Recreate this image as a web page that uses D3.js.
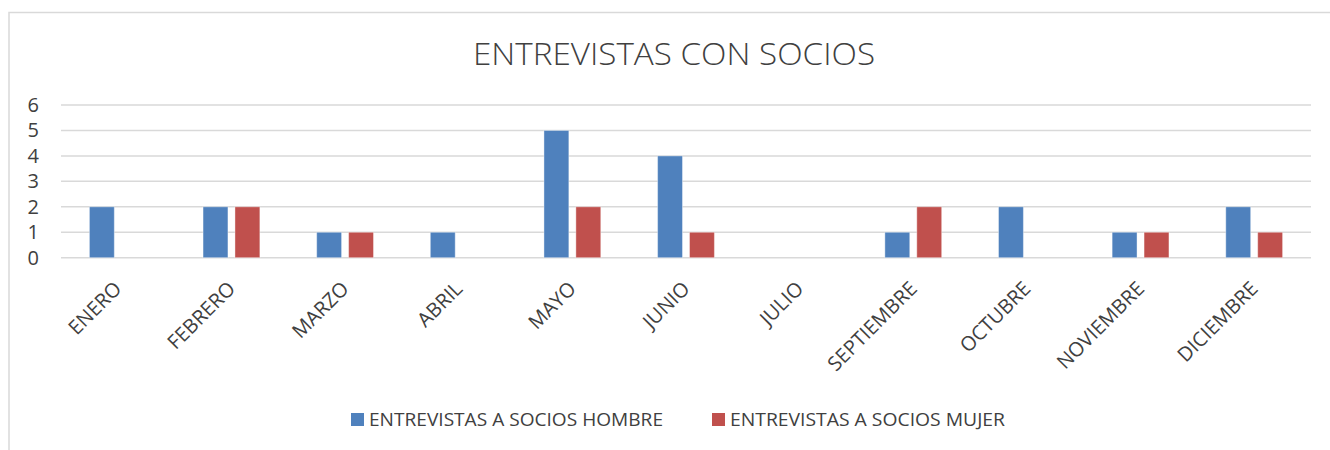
<html>
<head>
  <title></title>
  <script src="https://cdn.jsdelivr.net/npm/d3@7"></script>
<style type="text/css">
body { margin: 0; background: #fff; }
text { fill: #404040; }
</style>
</head>
<body>
<script type="text/javascript">
// monthly interviews with members, by sex
var categories = ['ENERO', 'FEBRERO', 'MARZO', 'ABRIL', 'MAYO', 'JUNIO',
                  'JULIO', 'SEPTIEMBRE', 'OCTUBRE', 'NOVIEMBRE', 'DICIEMBRE'];
var hombre = [2, 2, 1, 1, 5, 4, 0, 1, 2, 1, 2];
var mujer  = [0, 2, 1, 0, 2, 1, 0, 2, 0, 1, 1];
var seriesNames = ['ENTREVISTAS A SOCIOS HOMBRE', 'ENTREVISTAS A SOCIOS MUJER'];
var seriesColors = ['#4f81bd', '#c0504d'];
var yTicks = [0, 1, 2, 3, 4, 5, 6];

var w = 1330, h = 450;

var svg = d3.select('body').append('svg')
  .attr('width', w)
  .attr('height', h);

// chart frame
svg.append('rect')
  .attr('x', 9).attr('y', 12.5)
  .attr('width', w).attr('height', h)
  .attr('fill', 'none')
  .attr('stroke', '#d9d9d9')
  .attr('stroke-width', 1.5);

svg.append('text')
  .attr('x', 674).attr('y', 65)
  .attr('text-anchor', 'middle')
  .attr('textLength', 402)
  .attr('lengthAdjust', 'spacingAndGlyphs')
  .style('font-family', 'Open Sans, sans-serif')
  .style('font-weight', 300)
  .style('font-size', '31px')
  .text('ENTREVISTAS CON SOCIOS');

var x = d3.scaleBand()
  .domain(categories)
  .range([61, 1311])
  .paddingInner(0.5)
  .paddingOuter(0.25);

var x1 = d3.scaleBand()
  .domain([0, 1])
  .range([0, x.bandwidth()])
  .paddingInner(0.22);

var y = d3.scaleLinear()
  .domain([0, 6])
  .range([257.7, 105]);

// gridlines
svg.append('g').selectAll('line')
  .data(yTicks).enter()
  .append('line')
  .attr('x1', 61).attr('x2', 1311)
  .attr('y1', function(d) { return y(d); })
  .attr('y2', function(d) { return y(d); })
  .attr('stroke', '#d9d9d9')
  .attr('stroke-width', 1.5);

svg.append('g').selectAll('text')
  .data(yTicks).enter()
  .append('text')
  .attr('x', 39)
  .attr('y', function(d) { return y(d) + 7; })
  .attr('text-anchor', 'end')
  .style('font-family', 'Open Sans, sans-serif')
  .style('font-size', '20px')
  .text(function(d) { return d; });

var rows = categories.map(function(c, i) {
  return { cat: c, vals: [hombre[i], mujer[i]] };
});

var groups = svg.append('g').selectAll('g')
  .data(rows).enter()
  .append('g')
  .attr('transform', function(d) { return 'translate(' + x(d.cat) + ',0)'; });

groups.selectAll('rect')
  .data(function(d) { return d.vals; })
  .enter()
  .append('rect')
  .attr('x', function(d, i) { return x1(i); })
  .attr('y', function(d) { return y(d); })
  .attr('width', x1.bandwidth())
  .attr('height', function(d) { return y(0) - y(d); })
  .attr('fill', function(d, i) { return seriesColors[i]; })
  .attr('stroke', function(d) { return d > 0 ? 'rgba(255,255,255,0.4)' : 'none'; })
  .attr('stroke-width', 1);

// rotated month labels
svg.append('g').selectAll('text')
  .data(categories).enter()
  .append('text')
  .attr('transform', function(d) {
    return 'translate(' + (x(d) + x.bandwidth() / 2 + 5) + ',290) rotate(-45)';
  })
  .attr('text-anchor', 'end')
  .style('font-family', 'Open Sans, sans-serif')
  .style('font-size', '20px')
  .text(function(d) { return d; });

// legend
var legendX = [351, 712];
var legendW = [294, 275];
var legend = svg.append('g').selectAll('g')
  .data(seriesNames).enter()
  .append('g')
  .attr('transform', function(d, i) { return 'translate(' + legendX[i] + ',413)'; });

legend.append('rect')
  .attr('width', 13).attr('height', 13)
  .attr('fill', function(d, i) { return seriesColors[i]; });

legend.append('text')
  .attr('x', 18).attr('y', 13)
  .attr('textLength', function(d, i) { return legendW[i]; })
  .attr('lengthAdjust', 'spacingAndGlyphs')
  .style('font-family', 'Open Sans, sans-serif')
  .style('font-size', '18px')
  .text(function(d) { return d; });

</script>
</body>
</html>
